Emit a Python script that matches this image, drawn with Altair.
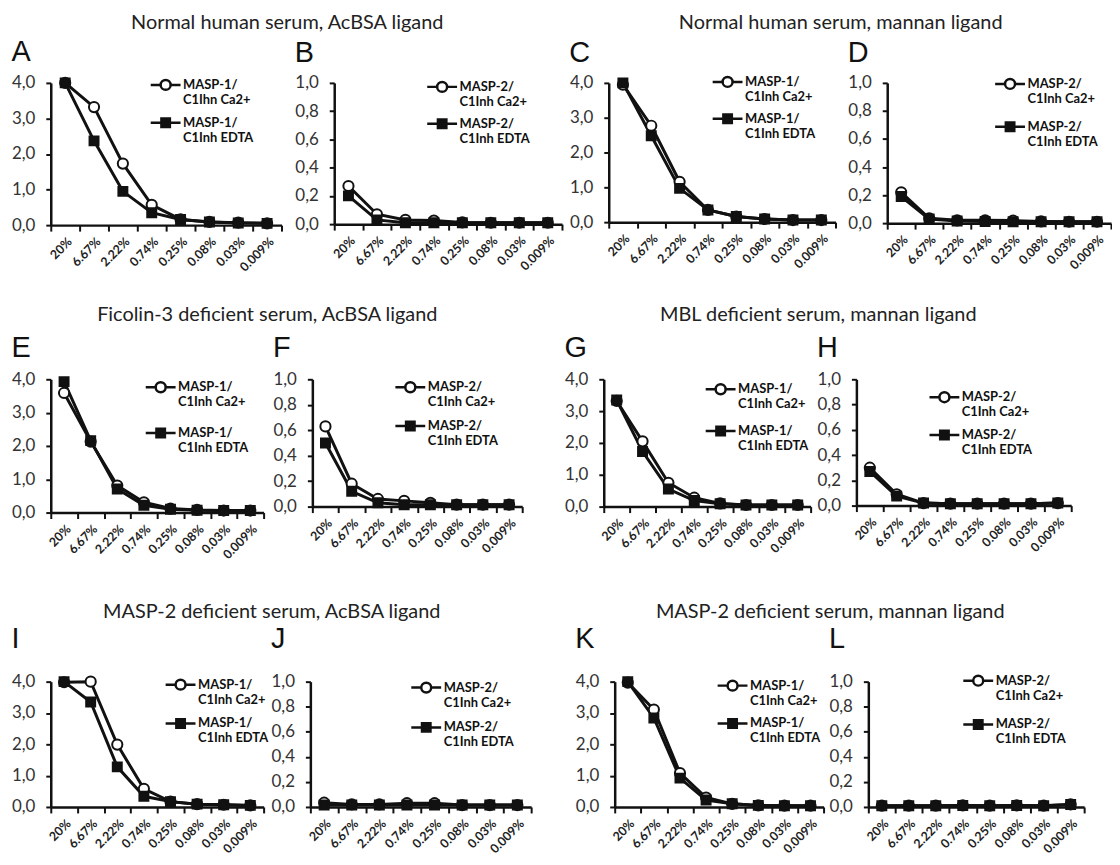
import altair as alt
import pandas as pd

INK = "#111111"
TXT = "#222222"

CONC = ["20%", "6.67%", "2.22%", "0.74%", "0.25%", "0.08%", "0.03%", "0.009%"]

LETTERS = ["A", "B", "C", "D", "E", "F", "G", "H", "I", "J", "K", "L"]
GROUP_TITLES = [
    "Normal human serum, AcBSA ligand", "Normal human serum, mannan ligand",
    "Ficolin-3 deficient serum, AcBSA ligand", "MBL deficient serum, mannan ligand",
    "MASP-2 deficient serum, AcBSA ligand", "MASP-2 deficient serum, mannan ligand",
]
ENZYME = ["MASP-1", "MASP-2", "MASP-1", "MASP-2"]
YMAX = [4.0, 1.0, 4.0, 1.0]

# series values (open circle = C1Inh Ca2+, filled square = C1Inh EDTA)
A_ca = [4.00, 3.32, 1.73, 0.57, 0.16, 0.09, 0.07, 0.05]
A_ed = [4.00, 2.37, 0.95, 0.35, 0.16, 0.09, 0.06, 0.05]
B_ca = [0.27, 0.07, 0.03, 0.025, 0.012, 0.01, 0.01, 0.01]
B_ed = [0.20, 0.03, 0.01, 0.01, 0.01, 0.01, 0.01, 0.01]
C_ca = [3.95, 2.77, 1.16, 0.35, 0.16, 0.09, 0.06, 0.06]
C_ed = [4.00, 2.48, 0.97, 0.35, 0.16, 0.09, 0.06, 0.06]
D_ca = [0.22, 0.035, 0.02, 0.02, 0.018, 0.012, 0.01, 0.01]
D_ed = [0.19, 0.03, 0.015, 0.012, 0.01, 0.01, 0.01, 0.01]
E_ca = [3.59, 2.13, 0.81, 0.31, 0.12, 0.08, 0.06, 0.06]
E_ed = [3.93, 2.16, 0.71, 0.22, 0.10, 0.07, 0.06, 0.06]
F_ca = [0.63, 0.18, 0.06, 0.045, 0.03, 0.015, 0.015, 0.015]
F_ed = [0.50, 0.12, 0.03, 0.015, 0.015, 0.015, 0.015, 0.015]
G_ca = [3.32, 2.05, 0.75, 0.28, 0.10, 0.05, 0.05, 0.05]
G_ed = [3.35, 1.73, 0.55, 0.19, 0.09, 0.05, 0.05, 0.05]
H_ca = [0.30, 0.09, 0.02, 0.015, 0.015, 0.015, 0.015, 0.02]
H_ed = [0.27, 0.075, 0.02, 0.015, 0.015, 0.015, 0.015, 0.02]
I_ca = [3.98, 4.00, 1.99, 0.58, 0.17, 0.09, 0.07, 0.05]
I_ed = [4.00, 3.35, 1.28, 0.34, 0.17, 0.09, 0.07, 0.05]
J_ca = [0.034, 0.02, 0.02, 0.03, 0.03, 0.015, 0.015, 0.015]
J_ed = [0.015, 0.015, 0.015, 0.015, 0.015, 0.015, 0.015, 0.015]
K_ca = [3.97, 3.11, 1.08, 0.30, 0.10, 0.05, 0.04, 0.04]
K_ed = [4.00, 2.84, 0.92, 0.22, 0.10, 0.05, 0.04, 0.04]
L_ca = [0.01, 0.01, 0.01, 0.012, 0.01, 0.012, 0.01, 0.02]
L_ed = [0.01, 0.01, 0.01, 0.012, 0.01, 0.012, 0.01, 0.02]

CA = [A_ca, B_ca, C_ca, D_ca, E_ca, F_ca, G_ca, H_ca, I_ca, J_ca, K_ca, L_ca]
ED = [A_ed, B_ed, C_ed, D_ed, E_ed, F_ed, G_ed, H_ed, I_ed, J_ed, K_ed, L_ed]

# layout per panel: width, height, legend x, legend y, legend entry gap
W = [232, 229, 228, 225, 214, 211, 208, 216, 214, 222, 210, 217]
H = [143, 142, 140, 141, 134, 128, 128, 127, 126, 126, 126, 126]
LX = [109, 102, 113, 117, 104, 92, 111, 82, 124, 110, 112, 104]
LDY = [2, 4, -1, 1, 8, 8, 10, 18, 3, 6, 4, -1]
LGAP = [38, 37, 37, 43, 46, 39, 42, 38, 39, 40, 38, 44]
ROW_TOFF = [6.5, 7.5, 18.5]
ROW_GOFF = [6, 9, 3]
INNER_SP = [12, 11, 8, 5, 2, 4]
OUTER_SP = [6, 41, 43]
VSP = [31, 41]

CIRCLE_PATH = "M-3,0H-1M1,0H3M-1,0A1,1,0,1,0,1,0A1,1,0,1,0,-1,0Z"
SQUARE_PATH = "M-3,0H3M-0.85,-0.85H0.85V0.85H-0.85Z"


def panel(i):
    row, col = divmod(i, 4)
    enz = ENZYME[col]
    ymax = YMAX[col]
    inh_ca = "C1Ihn" if i == 0 else "C1Inh"
    pre = "\u00a0\u00a0" if i >= 10 else ""
    lab_ca = f"{pre}{enz}/|{inh_ca} Ca2+"
    lab_ed = f"{pre}{enz}/|C1Inh EDTA"
    dom = [lab_ca, lab_ed]
    df = pd.DataFrame({
        "conc": CONC + CONC,
        "value": CA[i] + ED[i],
        "series": [lab_ca] * 8 + [lab_ed] * 8,
    })
    ticks = [0, 1, 2, 3, 4] if ymax == 4 else [0, 0.2, 0.4, 0.6, 0.8, 1.0]
    xenc = alt.X("conc:N", sort=CONC,
                 scale=alt.Scale(type="band", paddingInner=0, paddingOuter=0),
                 axis=alt.Axis(title=None, labelAngle=-45, labelAlign="right",
                               labelBaseline="top", tickBand="extent",
                               labelOverlap=False, labelPadding=4, tickSize=6,
                               labelFont="Lato", labelFontWeight="bold",
                               labelFontSize=12.5, labelColor=TXT))
    yenc = alt.Y("value:Q", scale=alt.Scale(domain=[0, ymax], nice=False),
                 axis=alt.Axis(title=None, values=ticks,
                               labelExpr="replace(format(datum.value, '.1f'), '.', ',')",
                               tickSize=5, labelPadding=11, labelFontSize=17,
                               labelFont="Lato", labelColor="#333333"))
    base = alt.Chart(df)
    line = base.mark_line(color=INK, strokeWidth=3).encode(
        x=xenc, y=yenc, detail="series:N")
    pts = base.mark_point(filled=True, stroke=INK, strokeWidth=2, opacity=1).encode(
        x=xenc, y=yenc,
        shape=alt.Shape("series:N", scale=alt.Scale(domain=dom, range=["circle", "square"]), legend=None),
        fill=alt.Fill("series:N", scale=alt.Scale(domain=dom, range=["white", INK]), legend=None),
        size=alt.Size("series:N", scale=alt.Scale(domain=dom, range=[105, 81]), legend=None),
    )
    leg_def = alt.Legend(
        title=None, orient="none", legendX=LX[i], legendY=LDY[i] - 6.5,
        labelExpr="split(datum.label, '|')", labelFont="Lato", labelFontSize=13,
        labelFontWeight="bold", labelColor=INK, symbolSize=100,
        symbolStrokeWidth=2.5, symbolStrokeColor=INK, labelOffset=11,
        rowPadding=LGAP[i] - 32, padding=0, labelLimit=0, labelBaseline="middle",
    )
    leg = base.transform_filter("false").mark_point(
        filled=True, strokeWidth=2.5, opacity=1).encode(
        x=xenc, y=yenc,
        shape=alt.Shape("series:N", scale=alt.Scale(domain=dom, range=[CIRCLE_PATH, SQUARE_PATH]), legend=leg_def),
        fill=alt.Fill("series:N", scale=alt.Scale(domain=dom, range=["white", INK]), legend=leg_def),
        stroke=alt.Stroke("series:N", scale=alt.Scale(domain=dom, range=[INK, INK]), legend=leg_def),
    )
    return alt.layer(line, pts, leg).resolve_scale(
        shape="independent", fill="independent", size="independent", stroke="independent"
    ).properties(
        width=W[i], height=H[i],
        title=alt.TitleParams(LETTERS[i], anchor="start", frame="bounds",
                              font="Liberation Sans", fontSize=29,
                              fontWeight="normal", color=INK, offset=ROW_TOFF[row]),
    )


rows = []
for r in range(3):
    pairs = []
    for p in range(2):
        i0 = r * 4 + p * 2
        g = alt.hconcat(panel(i0), panel(i0 + 1), spacing=INNER_SP[r * 2 + p]).properties(
            title=alt.TitleParams(GROUP_TITLES[r * 2 + p], anchor="middle", font="Lato",
                                  fontSize=20, fontWeight="normal", color=TXT,
                                  offset=ROW_GOFF[r]))
        pairs.append(g)
    rows.append(alt.hconcat(pairs[0], pairs[1], spacing=OUTER_SP[r]))

chart = alt.vconcat(alt.vconcat(rows[0], rows[1], spacing=VSP[0]), rows[2], spacing=VSP[1]).properties(
    padding={"left": 3, "top": 2, "right": 0, "bottom": 0}
).configure_view(stroke=None).configure_axis(
    grid=False, domainColor=INK, domainWidth=2.5, tickColor=INK, tickWidth=2
)

chart.save("out.html", embed_options={"renderer": "svg", "actions": False})
